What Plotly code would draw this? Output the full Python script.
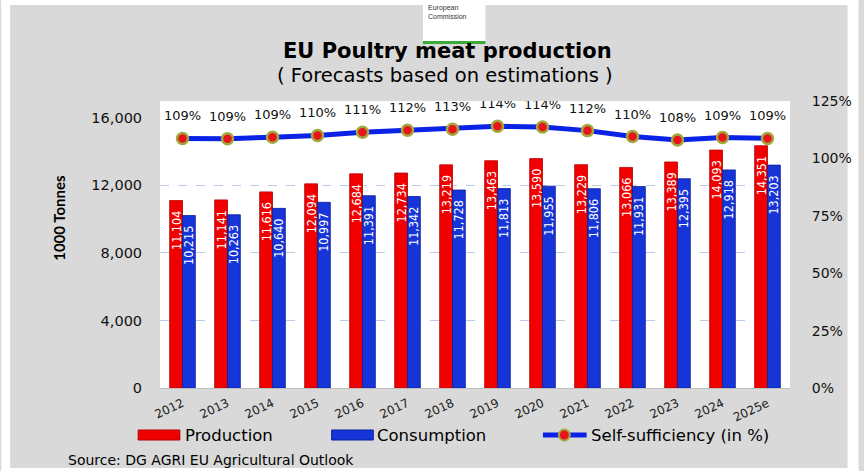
import plotly.graph_objects as go

years = ["2012", "2013", "2014", "2015", "2016", "2017", "2018", "2019",
         "2020", "2021", "2022", "2023", "2024", "2025e"]
production = [11104, 11141, 11616, 12094, 12684, 12734, 13219, 13463,
              13590, 13229, 13066, 13389, 14093, 14351]
consumption = [10215, 10263, 10640, 10997, 11391, 11342, 11728, 11813,
               11955, 11806, 11931, 12395, 12918, 13203]
self_suff = [108.7, 108.6, 109.2, 110.0, 111.4, 112.3, 112.7, 114.0,
             113.7, 112.1, 109.5, 108.0, 109.1, 108.7]
left_ticks = [0, 4000, 8000, 12000, 16000]
grid_vals = [4000, 8000, 12000]
right_ticks = [0, 25, 50, 75, 100, 125]
right_labels = ["0%", "25%", "50%", "75%", "100%", "125%"]

W, H = 864, 471
L, R, T, B = 160, 795, 101, 388


def px(x):
    return (x - L) / (R - L)


def py(y):
    return (B - y) / (B - T)


COND = "DejaVu Sans Condensed, DejaVu Sans, sans-serif"
VERD = "DejaVu Sans, Verdana, sans-serif"
CAL = "Lato, Open Sans, sans-serif"

RED, RED_D = "#f20000", "#b00000"
BLUE, BLUE_D = "#1535d8", "#0a1f99"

fig = go.Figure()
fig.add_trace(go.Bar(
    x=years, y=production, name="Production",
    marker=dict(color=RED, line=dict(color=RED_D, width=0.8)),
    texttemplate="%{y:,.0f}  ", textposition="inside",
    insidetextanchor="end", textangle=-90, constraintext="none",
    textfont=dict(color="white", size=12.5, family=COND),
    showlegend=False,
))
fig.add_trace(go.Bar(
    x=years, y=consumption, name="Consumption",
    marker=dict(color=BLUE, line=dict(color=BLUE_D, width=0.8)),
    texttemplate="%{y:,.0f}  ", textposition="inside",
    insidetextanchor="end", textangle=-90, constraintext="none",
    textfont=dict(color="white", size=12.5, family=COND),
    showlegend=False,
))
fig.add_trace(go.Scatter(
    x=years, y=self_suff, yaxis="y2", mode="lines+markers",
    name="Self-sufficiency (in %)",
    line=dict(color="#0a22e6", width=5),
    marker=dict(color="#e8141a", size=11, line=dict(color="#a3a83e", width=2.5)),
    showlegend=False,
))
# percentage labels above the line
fig.add_trace(go.Scatter(
    x=years, y=self_suff, yaxis="y2", mode="markers+text",
    marker=dict(size=22, color="rgba(0,0,0,0)"),
    texttemplate="%{y:.0f}%", textposition="top center",
    textfont=dict(size=13, color="#111", family=VERD),
    showlegend=False, hoverinfo="skip",
))

annotations = [
    dict(x=px(450), y=py(51), xref="paper", yref="paper",
         xanchor="center", yanchor="middle",
         text="<b>EU Poultry meat production</b>", showarrow=False,
         font=dict(size=21, color="black", family=VERD)),
    dict(x=px(447), y=py(75), xref="paper", yref="paper",
         xanchor="center", yanchor="middle",
         text="( Forecasts based on estimations )", showarrow=False,
         font=dict(size=19.5, color="black", family=VERD)),
    dict(x=px(58), y=py(218), xref="paper", yref="paper",
         xanchor="center", yanchor="middle",
         text="<b>1000 Tonnes</b>", showarrow=False, textangle=-90,
         font=dict(size=15, color="black", family=CAL)),
    dict(x=px(65), y=py(460), xref="paper", yref="paper",
         xanchor="left", yanchor="middle",
         text="Source: DG AGRI EU Agricultural Outlook", showarrow=False,
         font=dict(size=14, color="black", family=VERD)),
    dict(x=px(428), y=py(8), xref="paper", yref="paper",
         xanchor="left", yanchor="middle",
         text="European", showarrow=False,
         font=dict(size=7, color="#333", family="Liberation Sans")),
    dict(x=px(428), y=py(17), xref="paper", yref="paper",
         xanchor="left", yanchor="middle",
         text="Commission", showarrow=False,
         font=dict(size=7, color="#333", family="Liberation Sans")),
    dict(x=px(183), y=py(435), xref="paper", yref="paper",
         xanchor="left", yanchor="middle",
         text="Production", showarrow=False,
         font=dict(size=16.5, color="black", family=VERD)),
    dict(x=px(377), y=py(435), xref="paper", yref="paper",
         xanchor="left", yanchor="middle",
         text="Consumption", showarrow=False,
         font=dict(size=16.5, color="black", family=VERD)),
    dict(x=px(592), y=py(435), xref="paper", yref="paper",
         xanchor="left", yanchor="middle",
         text="Self-sufficiency (in %)", showarrow=False,
         font=dict(size=16.5, color="black", family=VERD)),
]

shapes = [
    dict(type="rect", xref="paper", yref="paper", x0=px(0), x1=px(9),
         y0=py(0), y1=py(H), fillcolor="white", line=dict(width=0), layer="below"),
    dict(type="rect", xref="paper", yref="paper", x0=px(0), x1=px(W),
         y0=py(0), y1=py(5), fillcolor="white", line=dict(width=0), layer="below"),
    dict(type="rect", xref="paper", yref="paper", x0=px(853), x1=px(W),
         y0=py(0), y1=py(H), fillcolor="white", line=dict(width=0), layer="below"),
    dict(type="rect", xref="paper", yref="paper", x0=px(0), x1=px(W),
         y0=py(468), y1=py(H), fillcolor="white", line=dict(width=0), layer="below"),
    dict(type="rect", xref="paper", yref="paper", x0=px(425), x1=px(488),
         y0=py(0), y1=py(44), fillcolor="white", line=dict(width=0)),
    dict(type="rect", xref="paper", yref="paper", x0=px(425), x1=px(488),
         y0=py(41), y1=py(44), fillcolor="#3aa935", line=dict(width=0)),
    dict(type="rect", xref="paper", yref="paper", x0=px(138), x1=px(180),
         y0=py(430), y1=py(440), fillcolor=RED,
         line=dict(color=RED_D, width=1)),
    dict(type="rect", xref="paper", yref="paper", x0=px(333), x1=px(375),
         y0=py(430), y1=py(440), fillcolor=BLUE,
         line=dict(color=BLUE_D, width=1)),
    dict(type="line", xref="paper", yref="paper", x0=px(546), x1=px(590),
         y0=py(435), y1=py(435), line=dict(color="#0a22e6", width=5)),
    dict(type="circle", xref="paper", yref="paper", x0=px(562), x1=px(573),
         y0=py(429.5), y1=py(440.5), fillcolor="#e8141a",
         line=dict(color="#a3a83e", width=2)),
]

fig.update_layout(
    width=W, height=H,
    margin=dict(l=L, r=W - R, t=T, b=H - B, pad=0),
    paper_bgcolor="#d9d9d9", plot_bgcolor="white",
    barmode="group", bargap=0.43, bargroupgap=0,
    showlegend=False,
    annotations=annotations, shapes=shapes,
    xaxis=dict(type="category", range=[-0.5, len(years) - 0.5],
               tickangle=-25, showgrid=False,
               showline=True, linecolor="#bfbfbf", linewidth=1,
               ticks="outside", ticklen=3, tickcolor="rgba(0,0,0,0)",
               tickfont=dict(size=12, color="#222", family=VERD)),
    yaxis=dict(range=[0, 17000], tickvals=left_ticks, tickformat=",",
               showgrid=False, zeroline=False, showline=False,
               minor=dict(tickvals=grid_vals, showgrid=True,
                          gridcolor="#b9cbe8", griddash="dash", gridwidth=1.2),
               ticks="outside", ticklen=14, tickcolor="rgba(0,0,0,0)",
               tickfont=dict(size=14.5, color="#111", family=VERD)),
    yaxis2=dict(range=[0, 125], tickvals=right_ticks, ticktext=right_labels,
                overlaying="y", side="right", showgrid=False,
                zeroline=False, showline=False,
                ticks="outside", ticklen=18, tickcolor="rgba(0,0,0,0)",
                tickfont=dict(size=14, color="#111", family=VERD)),
)

fig.write_html("out.html", config={"displayModeBar": False},
               post_script="document.body.style.margin='0';")
